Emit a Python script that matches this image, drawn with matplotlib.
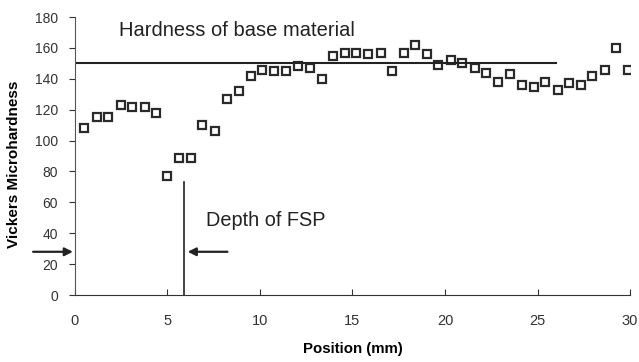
import matplotlib
matplotlib.use("Agg")
import matplotlib.pyplot as plt

plt.rcParams['font.family'] = ['Liberation Sans', 'DejaVu Sans']

# measured hardness profile
position = [0.5, 1.2, 1.8, 2.5, 3.1, 3.8, 4.4, 5.0, 5.65, 6.3, 6.9, 7.55,
            8.2, 8.9, 9.5, 10.1, 10.75, 11.4, 12.05, 12.7, 13.35, 13.95, 14.6, 15.2,
            15.85, 16.55, 17.15, 17.8, 18.4, 19.05, 19.65, 20.3, 20.9, 21.6, 22.2,
            22.85, 23.5, 24.15, 24.8, 25.4, 26.1, 26.7, 27.35, 27.95, 28.65, 29.25, 29.9]
hardness = [108, 115, 115, 123, 122, 122, 118, 77, 89, 89, 110, 106,
            127, 132, 142, 146, 145, 145, 148, 147, 140, 155, 157, 157,
            156, 157, 145, 157, 162, 156, 149, 152, 150, 147, 144,
            138, 143, 136, 135, 138, 133, 137, 136, 142, 146, 160, 146]

base_hardness = 150
base_end = 26
fsp_depth = 5.9
fsp_line_top = 73
arrow_y = 28

xticks = [0, 5, 10, 15, 20, 25, 30]
yticks = [0, 20, 40, 60, 80, 100, 120, 140, 160, 180]

fig = plt.figure(figsize=(6.39, 3.62), dpi=100)
ax = fig.add_axes([0.117, 0.185, 0.869, 0.768])

ax.plot(position, hardness, linestyle='none', marker='s', markersize=6,
        markerfacecolor='white', markeredgecolor='#2a2a2a', markeredgewidth=1.6)

ax.plot([0, base_end], [base_hardness, base_hardness], color='#222222', lw=1.5)
ax.plot([fsp_depth, fsp_depth], [0, fsp_line_top], color='#222222', lw=1.2)

ax.text(2.4, 171, 'Hardness of base material', fontsize=14.5, va='center', color='#222222')
ax.text(7.1, 48, 'Depth of FSP', fontsize=14.3, va='center', color='#222222')

ax.annotate('', xy=(0.05, arrow_y), xytext=(-2.4, arrow_y),
            arrowprops=dict(arrowstyle='-|>', color='#222222', lw=1.6, mutation_scale=12),
            annotation_clip=False)
ax.annotate('', xy=(fsp_depth + 0.05, arrow_y), xytext=(fsp_depth + 2.5, arrow_y),
            arrowprops=dict(arrowstyle='-|>', color='#222222', lw=1.6, mutation_scale=12))

ax.set_xlim(0, 30)
ax.set_ylim(0, 180)
ax.set_xticks(xticks)
ax.set_yticks(yticks)
ax.tick_params(axis='x', direction='in', length=4, pad=14, labelsize=10.5, colors='#333333')
ax.tick_params(axis='y', direction='out', length=4, pad=8, labelsize=10, colors='#333333')
ax.spines['top'].set_visible(False)
ax.spines['right'].set_visible(False)
ax.spines['left'].set_color('#555555')
ax.spines['bottom'].set_color('#333333')

ax.set_xlabel('Position (mm)', fontsize=10.8, fontweight='bold', labelpad=10)
ax.set_ylabel('Vickers Microhardness', fontsize=11, fontweight='bold', labelpad=6)
ax.yaxis.set_label_coords(-0.096, 0.47)

fig.savefig('out.png', dpi=100)
